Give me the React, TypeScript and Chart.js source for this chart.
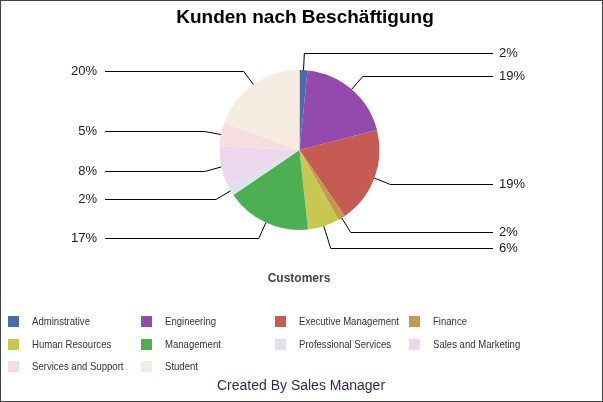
import { useEffect, useRef } from 'react';
import { Chart, registerables } from 'chart.js';

Chart.register(...registerables);

const W = 603;
const H = 402;
const FONT = '"Liberation Sans", Arial, sans-serif';

const chartTitle = 'Kunden nach Beschäftigung';
const axisTitle = 'Customers';
const footerText = 'Created By Sales Manager';

const categories = [
  'Adminstrative',
  'Engineering',
  'Executive Management',
  'Finance',
  'Human Resources',
  'Management',
  'Professional Services',
  'Sales and Marketing',
  'Services and Support',
  'Student',
];

// share of customers in percent
const shares = [1.6, 19.4, 19.4, 1.5, 6.4, 17.2, 2.0, 8.2, 4.8, 19.5];

const colors = [
  '#4a6bac',
  '#9449ad',
  '#c55b53',
  '#c6974f',
  '#c7c752',
  '#4caf52',
  '#dde2ec',
  '#edd7ec',
  '#f6dde0',
  '#f5ebe0',
];

const pctLabels = shares.map((v) => Math.round(v) + '%');

// draws title, leader lines, legend and footer around the pie
const decorPlugin = {
  id: 'decor',
  beforeDraw(chart: any) {
    const ctx = chart.ctx;
    ctx.save();
    ctx.fillStyle = '#ffffff';
    ctx.fillRect(0, 0, W, H);
    ctx.restore();
  },
  afterDraw(chart: any) {
    const ctx = chart.ctx;
    ctx.save();

    // title
    ctx.fillStyle = '#000';
    ctx.font = 'bold 19px ' + FONT;
    ctx.textAlign = 'center';
    ctx.textBaseline = 'middle';
    ctx.fillText(chartTitle, 305, 18);

    // leader lines + percent labels
    const meta = chart.getDatasetMeta(0);
    const items = meta.data.map((arc: any, i: number) => {
      const p = arc.getProps(['x', 'y', 'startAngle', 'endAngle', 'outerRadius'], true);
      const mid = (p.startAngle + p.endAngle) / 2;
      const cos = Math.cos(mid);
      const sin = Math.sin(mid);
      const ext = p.outerRadius + 17;
      return {
        i,
        cx: p.x,
        cy: p.y,
        cos,
        sin,
        r: p.outerRadius,
        right: cos >= 0,
        y: p.y + sin * ext,
        baseY: p.y + sin * ext,
        ext,
      };
    });

    [true, false].forEach((side) => {
      const list = items.filter((it: any) => it.right === side).sort((a: any, b: any) => a.y - b.y);
      for (let k = 1; k < list.length; k++) {
        if (list[k].y < list[k - 1].y + 16) list[k].y = list[k - 1].y + 16;
      }
    });

    ctx.strokeStyle = '#000';
    ctx.lineWidth = 1;
    ctx.font = '13px ' + FONT;
    ctx.fillStyle = '#222';
    ctx.textBaseline = 'middle';
    items.forEach((it: any) => {
      const sx = it.cx + it.cos * it.r;
      const sy = it.cy + it.sin * it.r;
      let ex = it.cx + it.cos * it.ext;
      if (it.y !== it.baseY && Math.abs(it.sin) > 0.01) {
        const t = (it.y - it.cy) / it.sin;
        ex = it.cx + it.cos * t;
      }
      const ey = Math.round(it.y) + 0.5;
      ctx.beginPath();
      ctx.moveTo(sx, sy);
      ctx.lineTo(ex, ey);
      if (it.right) {
        ctx.lineTo(493, ey);
      } else {
        ctx.lineTo(105, ey);
      }
      ctx.stroke();
      if (it.right) {
        ctx.textAlign = 'left';
        ctx.fillText(pctLabels[it.i], 499, ey);
      } else {
        ctx.textAlign = 'right';
        ctx.fillText(pctLabels[it.i], 97, ey);
      }
    });

    // category axis title
    ctx.font = 'bold 12px ' + FONT;
    ctx.fillStyle = '#444';
    ctx.textAlign = 'center';
    ctx.fillText(axisTitle, 299, 279);

    // legend, 4 columns (the original face is narrower, so squeeze it)
    const colX = [8, 141, 275, 409];
    const rowY = [321, 344, 366];
    ctx.font = '11px ' + FONT;
    ctx.textAlign = 'left';
    categories.forEach((name, i) => {
      const x = colX[i % 4];
      const y = rowY[Math.floor(i / 4)];
      ctx.fillStyle = colors[i];
      ctx.fillRect(x, y - 5, 11, 11);
      ctx.fillStyle = '#333';
      ctx.save();
      ctx.translate(x + 24, y + 0.5);
      ctx.scale(0.87, 1);
      ctx.fillText(name, 0, 0);
      ctx.restore();
    });

    // footer
    ctx.font = '14px ' + FONT;
    ctx.fillStyle = '#3b1f47';
    ctx.textAlign = 'center';
    ctx.fillText(footerText, 301, 386);

    // frame
    ctx.strokeStyle = '#444';
    ctx.lineWidth = 1;
    ctx.strokeRect(0.5, 0.5, W - 1, H - 1);

    ctx.restore();
  },
};

export default function App() {
  const canvasRef = useRef<HTMLCanvasElement>(null);
  const chartInstance = useRef<Chart | null>(null);

  useEffect(() => {
    if (!canvasRef.current) return;
    document.body.style.margin = '0';
    if (chartInstance.current) chartInstance.current.destroy();

    chartInstance.current = new Chart(canvasRef.current, {
      type: 'pie',
      data: {
        labels: categories,
        datasets: [
          {
            data: shares,
            backgroundColor: colors,
            borderWidth: 0,
          },
        ],
      },
      options: {
        responsive: false,
        animation: false,
        devicePixelRatio: 1,
        layout: {
          padding: { top: 70, bottom: 172, left: 100, right: 104 },
        },
        plugins: {
          legend: { display: false },
          title: { display: false },
          tooltip: { enabled: false },
        },
      },
      plugins: [decorPlugin],
    });

    return () => {
      if (chartInstance.current) {
        chartInstance.current.destroy();
        chartInstance.current = null;
      }
    };
  }, []);

  return (
    <div style={{ width: W, height: H }}>
      <canvas ref={canvasRef} width={W} height={H} />
    </div>
  );
}
